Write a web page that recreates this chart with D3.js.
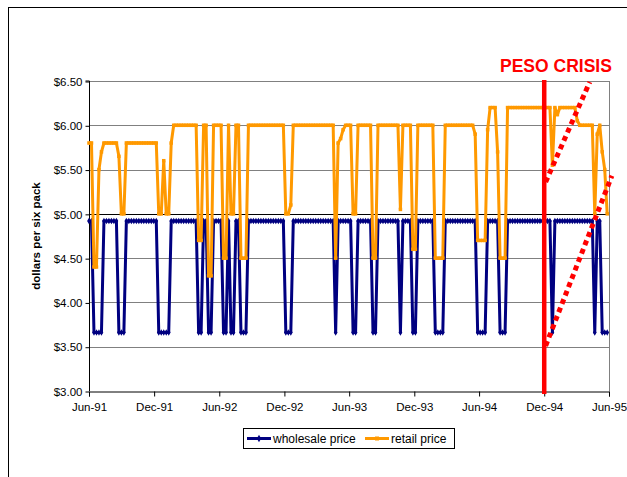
<!DOCTYPE html>
<html>
<head>
<meta charset="utf-8">
<script src="https://d3js.org/d3.v7.min.js"></script>
<style>
body { margin: 0; background: #fff; }
text { font-family: "Liberation Sans", Arial, sans-serif; }
</style>
</head>
<body>
<svg width="627" height="477"></svg>
<script>
// weekly prices, first week = Jun 1 1991
var wholesale = [
4.92,4.92,3.66,3.66,3.66,3.66,4.92,4.92,4.92,4.92,4.92,4.92,3.66,3.66,3.66,
4.92,4.92,4.92,4.92,4.92,4.92,4.92,4.92,4.92,4.92,4.92,4.92,4.92,
3.66,3.66,3.66,3.66,3.66,4.92,4.92,4.92,4.92,4.92,4.92,4.92,4.92,4.92,4.92,4.92,
3.66,3.66,4.92,4.92,3.66,3.66,4.92,4.92,4.92,4.92,3.66,3.66,4.92,3.66,3.66,4.92,4.92,3.66,3.66,3.66,
4.92,4.92,4.92,4.92,4.92,4.92,4.92,4.92,4.92,4.92,4.92,4.92,4.92,4.92,4.92,
3.66,3.66,3.66,
4.92,4.92,4.92,4.92,4.92,4.92,4.92,4.92,4.92,4.92,4.92,4.92,4.92,4.92,4.92,4.92,4.92,
3.66,4.92,4.92,4.92,4.92,4.92,4.92,3.66,3.66,4.92,4.92,4.92,4.92,4.92,4.92,3.66,3.66,
4.92,4.92,4.92,4.92,4.92,4.92,4.92,4.92,4.92,3.66,4.92,4.92,4.92,4.92,3.66,3.66,
4.92,4.92,4.92,4.92,4.92,4.92,4.92,3.66,3.66,3.66,3.66,
4.92,4.92,4.92,4.92,4.92,4.92,4.92,4.92,4.92,4.92,4.92,4.92,4.92,3.66,3.66,3.66,3.66,
4.92,4.92,4.92,4.92,4.92,3.66,3.66,3.66,
4.92,4.92,4.92,4.92,4.92,4.92,4.92,4.92,4.92,4.92,4.92,4.92,4.92,4.92,4.92,4.92,4.92,4.92,
3.66,4.92,4.92,4.92,4.92,4.92,4.92,4.92,4.92,4.92,4.92,4.92,4.92,4.92,4.92,4.92,4.92,
3.66,4.92,4.92,3.66,3.66,3.66
];
var retail = [
5.80,5.80,4.40,4.40,5.50,5.70,5.80,5.80,5.80,5.80,5.80,5.80,5.65,5.00,5.00,
5.80,5.80,5.80,5.80,5.80,5.80,5.80,5.80,5.80,5.80,5.80,5.80,5.80,
5.00,5.00,5.60,5.00,5.00,5.80,6.00,6.00,6.00,6.00,6.00,6.00,6.00,6.00,6.00,6.00,
4.70,4.70,6.00,6.00,4.30,4.30,6.00,6.00,6.00,6.00,4.50,4.50,6.00,5.00,5.00,6.00,6.00,4.50,4.50,4.50,
6.00,6.00,6.00,6.00,6.00,6.00,6.00,6.00,6.00,6.00,6.00,6.00,6.00,6.00,6.00,
5.00,5.00,5.10,
6.00,6.00,6.00,6.00,6.00,6.00,6.00,6.00,6.00,6.00,6.00,6.00,6.00,6.00,6.00,6.00,6.00,
4.50,5.80,5.85,5.95,6.00,6.00,6.00,5.00,5.00,6.00,6.00,6.00,6.00,6.00,6.00,4.50,4.50,
6.00,6.00,6.00,6.00,6.00,6.00,6.00,6.00,6.00,5.05,6.00,6.00,6.00,6.00,4.60,4.60,
6.00,6.00,6.00,6.00,6.00,6.00,6.00,4.50,4.50,4.50,4.50,
6.00,6.00,6.00,6.00,6.00,6.00,6.00,6.00,6.00,6.00,6.00,6.00,5.90,4.70,4.70,4.70,4.70,
5.95,6.20,6.20,6.20,5.70,4.50,4.50,4.50,
6.20,6.20,6.20,6.20,6.20,6.20,6.20,6.20,6.20,6.20,6.20,6.20,6.20,6.20,6.20,6.20,6.20,6.20,
5.55,6.20,6.12,6.20,6.20,6.20,6.20,6.20,6.20,6.20,6.05,6.00,6.00,6.00,6.00,6.00,6.00,
5.00,5.90,6.00,5.70,5.50,5.00
];
var xTicks = ["Jun-91","Dec-91","Jun-92","Dec-92","Jun-93","Dec-93","Jun-94","Dec-94","Jun-95"];
var yTicks = [3.0,3.5,4.0,4.5,5.0,5.5,6.0,6.5];
var crisisDate = "Dec-94";
// dotted trend lines [date, price] -> [date, price]
var trendUp = [["1994-12-05", 5.36], ["1995-04-08", 6.49]];
var trendLow = [["1994-12-05", 3.51], ["1995-06-09", 5.43]];

var parseTick = d3.timeParse("%b-%y");
var parseDay = d3.timeParse("%Y-%m-%d");
var start = new Date(1991, 5, 1);
var dates = wholesale.map(function(d, i) { return d3.timeDay.offset(start, 7 * i); });

var svg = d3.select("svg");
var pLeft = 89, pRight = 609, pTop = 81, pBottom = 391;

var x = d3.scaleTime().domain([parseTick("Jun-91"), parseTick("Jun-95")]).range([pLeft, pRight]);
var y = d3.scaleLinear().domain([3, 6.5]).range([pBottom, pTop]);

// chart border (runs off the picture)
svg.append("rect").attr("x", 8.5).attr("y", 7.5).attr("width", 700).attr("height", 600)
  .attr("fill", "none").attr("stroke", "#000").attr("stroke-width", 1);

// gridlines
svg.append("g").selectAll("line").data(yTicks.filter(function(d){ return d > 3; }))
  .enter().append("line")
  .attr("x1", pLeft).attr("x2", pRight)
  .attr("y1", function(d){ return Math.round(y(d)) + 0.5; })
  .attr("y2", function(d){ return Math.round(y(d)) + 0.5; })
  .attr("stroke", function(d){ return d == 5 ? "#000" : "#808080"; })
  .attr("stroke-width", 1);
svg.append("line").attr("x1", pRight + 0.5).attr("x2", pRight + 0.5).attr("y1", pTop).attr("y2", pBottom)
  .attr("stroke", "#808080");

// axes
var yAxis = svg.append("g").attr("transform", "translate(" + (pLeft + 0.5) + ",0.5)")
  .call(d3.axisLeft(y).tickValues(yTicks).tickSize(4).tickPadding(3).tickFormat(d3.format("$.2f")));
var xAxis = svg.append("g").attr("transform", "translate(0," + (pBottom + 0.5) + ")")
  .call(d3.axisBottom(x).tickValues(xTicks.map(parseTick)).tickSize(5).tickPadding(6).tickFormat(d3.timeFormat("%b-%y")));
svg.selectAll(".domain").attr("stroke", "#000");
svg.selectAll(".tick line").attr("stroke", "#000");
svg.selectAll(".tick text").attr("font-size", "11.5px").attr("fill", "#000")
  .style("font-family", "'Liberation Sans', Arial, sans-serif");
yAxis.select(".domain").attr("d", "M-4," + (pTop - 0.5) + "H0V" + (pBottom - 0.5));

// y label
svg.append("text").attr("transform", "translate(40," + ((pTop + pBottom) / 2) + ") rotate(-90)")
  .attr("text-anchor", "middle").attr("font-size", "11.5px").attr("font-weight", "bold")
  .text("dollars per six pack");

// series
var line = d3.line().x(function(d, i){ return x(dates[i]); }).y(function(d){ return y(d); });

svg.append("path").datum(wholesale).attr("d", line).attr("fill", "none")
  .attr("stroke", "#000080").attr("stroke-width", 3).attr("stroke-linejoin", "round");
svg.append("g").selectAll("path").data(wholesale).enter().append("path")
  .attr("d", d3.symbol().type(d3.symbolDiamond).size(12))
  .attr("transform", function(d, i){ return "translate(" + x(dates[i]) + "," + y(d) + ")"; })
  .attr("fill", "#000080");

svg.append("path").datum(retail).attr("d", line).attr("fill", "none")
  .attr("stroke", "#FF9900").attr("stroke-width", 3).attr("stroke-linejoin", "round");
svg.append("g").selectAll("rect").data(retail).enter().append("rect")
  .attr("x", function(d, i){ return x(dates[i]) - 1.75; })
  .attr("y", function(d){ return y(d) - 1.75; })
  .attr("width", 3.5).attr("height", 3.5)
  .attr("fill", "#FF9900");

// peso crisis marker
var cx = x(parseTick(crisisDate));
svg.append("line").attr("x1", cx).attr("x2", cx).attr("y1", pTop - 1).attr("y2", pBottom + 3)
  .attr("stroke", "#FF0000").attr("stroke-width", 4.5);
[trendUp, trendLow].forEach(function(t) {
  svg.append("line")
    .attr("x1", x(parseDay(t[0][0]))).attr("y1", y(t[0][1]))
    .attr("x2", x(parseDay(t[1][0]))).attr("y2", y(t[1][1]))
    .attr("stroke", "#FF0000").attr("stroke-width", 5).attr("stroke-dasharray", "5,4");
});
svg.append("text").attr("x", 500).attr("y", 71.5).attr("font-size", "17.5px").attr("font-weight", "bold")
  .attr("fill", "#FF0000").text("PESO CRISIS");

// legend
var lg = svg.append("g");
lg.append("rect").attr("x", 243.5).attr("y", 428.5).attr("width", 211).attr("height", 20)
  .attr("fill", "#fff").attr("stroke", "#000");
var items = [["wholesale price", "#000080", 247], ["retail price", "#FF9900", 365]];
items.forEach(function(it, k) {
  lg.append("line").attr("x1", it[2]).attr("x2", it[2] + 24).attr("y1", 438.5).attr("y2", 438.5)
    .attr("stroke", it[1]).attr("stroke-width", 3);
  if (k == 0) {
    lg.append("path").attr("d", d3.symbol().type(d3.symbolDiamond).size(16))
      .attr("transform", "translate(" + (it[2] + 12) + ",438.5)").attr("fill", it[1]);
  } else {
    lg.append("rect").attr("x", it[2] + 10).attr("y", 436.5).attr("width", 4).attr("height", 4).attr("fill", it[1]);
  }
  lg.append("text").attr("x", it[2] + 26).attr("y", 442.5).attr("font-size", "12px").text(it[0]);
});
</script>
</body>
</html>
